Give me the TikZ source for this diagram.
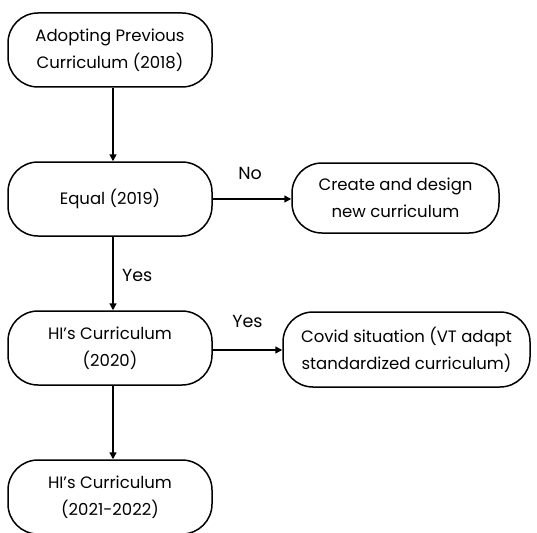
\documentclass[tikz,border=0pt]{standalone}
\usepackage{fontspec}
\setmainfont{Poppins}
\usetikzlibrary{arrows.meta}
\begin{document}
\begin{tikzpicture}[x=1pt,y=-1pt,
  box/.style={draw=black,line width=1.5pt,rounded corners=30pt,minimum width=204pt,minimum height=74pt,inner sep=0pt,align=center,font=\fontsize{16.5}{27}\selectfont},
  conn/.style={line width=1.5pt,-{Triangle[length=7pt,width=7pt]}},
  lbl/.style={font=\fontsize{17.5}{19}\selectfont}]
\useasboundingbox (0,0) rectangle (537,532);
\node[box] (a) at (110,50) {Adopting Previous\\Curriculum (2018)};
\node[box] (b) at (110,199) {Equal (2019)};
\node[box,minimum width=207pt,minimum height=70pt] (c) at (395.5,198) {Create and design\\new curriculum};
\node[box] (d) at (110,348) {HI’s Curriculum\\(2020)};
\node[box,minimum width=247pt,minimum height=75pt] (e) at (406.5,349.5) {Covid situation (VT adapt\\standardized curriculum)};
\node[box] (f) at (110,497) {HI’s Curriculum\\(2021-2022)};
\draw[conn] (a.south) ++(3,0) coordinate (a1) -- (a1 |- b.north);
\draw[conn] (b.east) -- (c.west |- b.east) node[lbl,midway,above=15pt,xshift=-2pt] {No};
\draw[conn] (b.south) ++(3,0) coordinate (b1) -- (b1 |- d.north) node[lbl,midway,right=5pt,yshift=-2pt] {Yes};
\draw[conn] (d.east) ++(0,2) coordinate (d1) -- (d1 -| e.west) node[lbl,midway,above=18pt] {Yes};
\draw[conn] (d.south) ++(3,0) coordinate (d2) -- (d2 |- f.north);
\end{tikzpicture}
\end{document}
